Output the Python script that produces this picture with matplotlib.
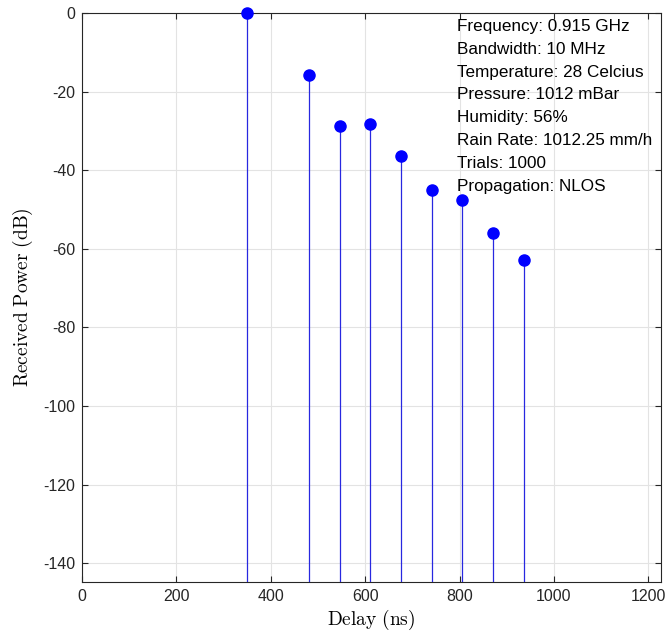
import matplotlib
matplotlib.use('Agg')
import matplotlib.pyplot as plt
import numpy as np

# delays (ns) and received power (dB) of the multipath taps
delay = [350, 481, 546, 611, 676, 741, 806, 871, 936]
power = [0.0, -15.7, -28.8, -28.2, -36.5, -45.0, -47.7, -56.1, -62.8]

info = ['Frequency: 0.915 GHz', 'Bandwidth: 10 MHz', 'Temperature: 28 Celcius',
        'Pressure: 1012 mBar', 'Humidity: 56%', 'Rain Rate: 1012.25 mm/h',
        'Trials: 1000', 'Propagation: NLOS']

plt.rcParams['font.family'] = ['Liberation Sans', 'DejaVu Sans']
plt.rcParams['mathtext.fontset'] = 'cm'
plt.rcParams['axes.unicode_minus'] = False

fig = plt.figure(figsize=(6.65, 6.35), dpi=100)
ax = fig.add_axes([82 / 665, 1 - 582 / 635, 579 / 665, 569 / 635])

ybase = -144.8
ax.vlines(delay, ybase, power, color='#2828e0', linewidth=0.9, zorder=3)
ax.plot(delay, power, 'o', color='blue', markersize=8, zorder=4, clip_on=False)

ax.set_xlim(0, 1227)
ax.set_ylim(ybase, 0)
ax.set_xticks(np.arange(0, 1201, 200))
ax.set_yticks(np.arange(-140, 1, 20))
ax.grid(True, color='#e3e3e3', linewidth=0.8)
ax.set_axisbelow(True)
ax.tick_params(direction='in', top=True, right=True, labelsize=11.5, colors='#262626',
               length=4, width=0.8, pad=5)
for s in ax.spines.values():
    s.set_color('#262626')
    s.set_linewidth(0.8)

ax.set_xlabel(r'$\mathrm{Delay\ (ns)}$', fontsize=14, labelpad=3)
ax.set_ylabel(r'$\mathrm{Received\ Power\ (dB)}$', fontsize=14, labelpad=6)

ax.text(0.648, 0.99, '\n'.join(info), transform=ax.transAxes, ha='left', va='top',
        fontsize=12.3, linespacing=1.66, color='black')

fig.savefig('out.png', dpi=100)
